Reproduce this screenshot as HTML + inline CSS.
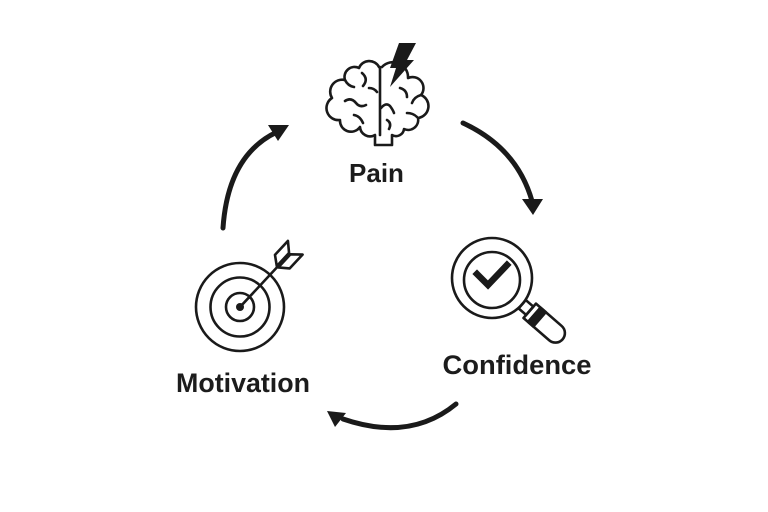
<!DOCTYPE html>
<html>
<head>
<meta charset="utf-8">
<style>
html,body{margin:0;padding:0;background:#fff;}
svg{display:block;}
text{font-family:"Liberation Sans",Arial,sans-serif;font-weight:bold;fill:#1c1c1c;}
</style>
</head>
<body>
<svg width="768" height="512" viewBox="0 0 768 512" xmlns="http://www.w3.org/2000/svg">
<rect width="768" height="512" fill="#fff"/>

<!-- Cycle arrows -->
<g fill="none" stroke="#1a1a1a" stroke-width="5" stroke-linecap="round">
  <path d="M463,123 Q517,148 532,201"/>
  <path d="M223,228 Q228,155 277,132"/>
  <path d="M456,404 Q410,442 343,419"/>
</g>
<g fill="#1a1a1a">
  <polygon points="522,199 543,199 533,215"/>
  <polygon points="268,125 289,125 278,141"/>
  <polygon points="327,411 335,427 346,413"/>
</g>

<!-- Brain -->
<g fill="none" stroke="#1a1a1a" stroke-width="2.6" stroke-linecap="round" stroke-linejoin="round">
  <path d="M379,67 A11,11 0 0 0 359,68 A10,10 0 0 0 345,80 A12,12 0 0 0 332,98 A12,12 0 0 0 340,120 A11,11 0 0 0 360,127 A10,10 0 0 0 375,135 L375,145 L392,145 L392,135 A8,8 0 0 0 404,129 A10,10 0 0 0 418,118 A12,12 0 0 0 421,95 A11,11 0 0 0 408,78 A15,15 0 0 0 382,67"/>
  <path d="M380,67 L380,135"/>
  <!-- left folds -->
  <path d="M362,73 Q369,79 363,86"/>
  <path d="M345,101 Q351,97 356,103 Q360,108 366,105"/>
  <path d="M369,88 Q374,88 377,92"/>
  <path d="M354,115 Q360,116 363,123"/>
  <path d="M345,80 Q348,86 354,87"/>
  <!-- right folds -->
  <path d="M400,88 Q407,90 407,97"/>
  <path d="M381,108 Q386,102 390,106 Q393,110 394,113"/>
  <path d="M407,113 Q413,113 417,117"/>
  <path d="M387,120 Q392,123 389,129"/>
  <path d="M421,95 Q414,97 412,103"/>
</g>
<polygon points="399,43 416,43 407,60 414,60 390,87 396,68 390,68" fill="#1a1a1a"/>

<!-- Magnifier -->
<g fill="none" stroke="#1a1a1a" stroke-width="2.6">
  <circle cx="492" cy="278" r="40"/>
  <circle cx="492" cy="280" r="28"/>
</g>
<polyline points="477,274 488,285 507,265" fill="none" stroke="#1a1a1a" stroke-width="6.5" stroke-linecap="square" stroke-linejoin="miter"/>
<g transform="translate(492,278) rotate(41)" fill="none" stroke="#1a1a1a" stroke-width="2.6" stroke-linejoin="round">
  <rect x="40" y="-5.5" width="10" height="11"/>
  <path d="M50,-9.5 L84,-9.5 A9.5,9.5 0 0 1 84,9.5 L50,9.5 Z"/>
  <rect x="56" y="-9.5" width="7" height="19" fill="#1a1a1a"/>
</g>

<!-- Target -->
<g fill="none" stroke="#1a1a1a" stroke-width="2.6">
  <circle cx="240" cy="307" r="44"/>
  <circle cx="240" cy="307" r="29.5"/>
  <circle cx="240" cy="307" r="14"/>
</g>
<circle cx="240" cy="307" r="4" fill="#1a1a1a"/>
<g transform="translate(240,307) rotate(-47)" fill="none" stroke="#1a1a1a" stroke-width="2.6" stroke-linejoin="round" stroke-linecap="round">
  <line x1="3" y1="0" x2="56" y2="0"/>
  <path d="M55,-1 L62,-10 L81,-10 L73,-1 Z"/>
  <path d="M55,1 L62,10 L81,10 L73,1 Z"/>
</g>

<!-- Labels -->
<text x="376.5" y="182" font-size="26" text-anchor="middle">Pain</text>
<text x="517" y="374" font-size="27" text-anchor="middle" textLength="149" lengthAdjust="spacingAndGlyphs">Confidence</text>
<text x="243" y="392" font-size="27" text-anchor="middle" textLength="134" lengthAdjust="spacingAndGlyphs">Motivation</text>
</svg>
</body>
</html>
